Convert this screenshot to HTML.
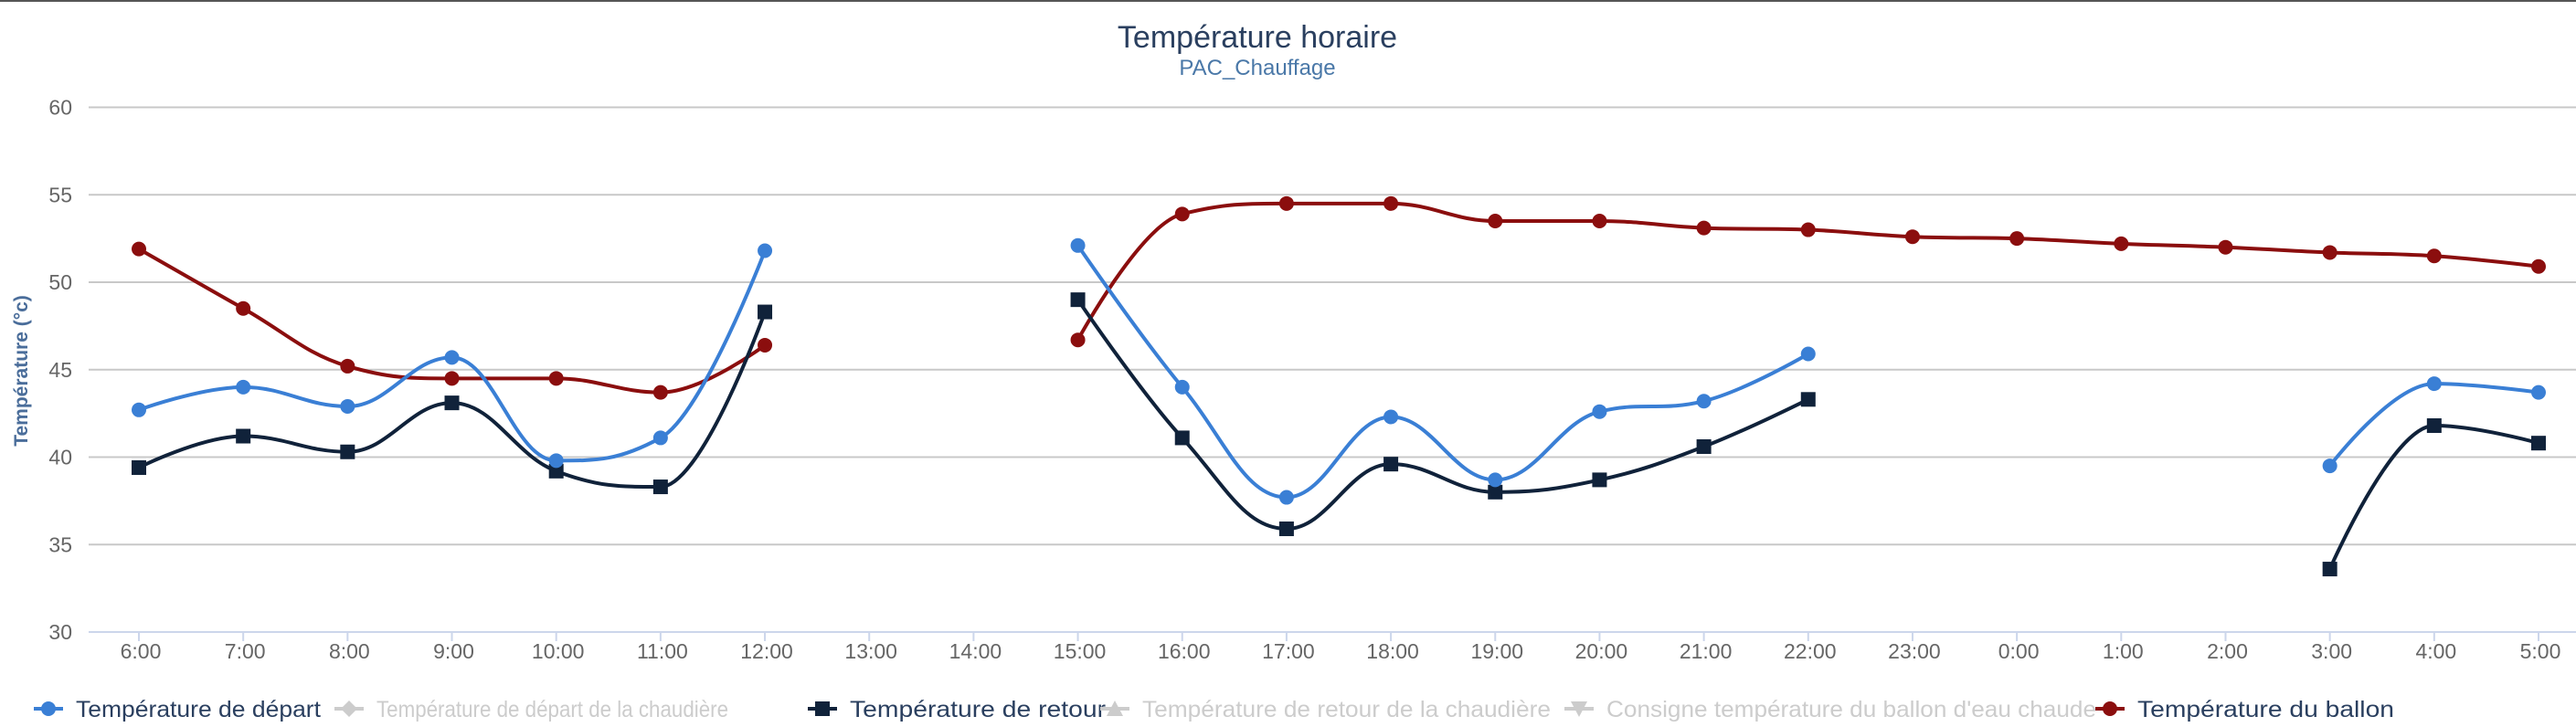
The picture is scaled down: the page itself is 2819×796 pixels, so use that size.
<!DOCTYPE html>
<html><head><meta charset="utf-8"><style>
html,body{margin:0;padding:0;background:#fff;}
svg{display:block;font-family:"Liberation Sans",sans-serif;}
</style></head><body>
<svg id="chart" width="2819" height="796" viewBox="0 0 2819 796">
<line x1="0" y1="1" x2="2819" y2="1" stroke="#555" stroke-width="2"/>
<text x="1376" y="52" text-anchor="middle" font-size="34" fill="#2a3f5f">Température horaire</text>
<text x="1376" y="82" text-anchor="middle" font-size="24" fill="#4a78a8">PAC_Chauffage</text>
<text transform="translate(30,406) rotate(-90)" text-anchor="middle" font-size="21" font-weight="bold" fill="#4a6d9a">Température (°c)</text>
<g id="grid"></g><g id="xaxis"></g><g id="series"></g>
<g id="legend" font-size="25"></g>
</svg>
<script>
const categories=["6:00","7:00","8:00","9:00","10:00","11:00","12:00","13:00","14:00","15:00","16:00","17:00","18:00","19:00","20:00","21:00","22:00","23:00","0:00","1:00","2:00","3:00","4:00","5:00"];
const yTicks=[30,35,40,45,50,55,60];
const departValues=[42.7,44.0,42.9,45.7,39.8,41.1,51.8,null,null,52.1,44.0,37.7,42.3,38.7,42.6,43.2,45.9,null,null,null,null,39.5,44.2,43.7];
const retourValues=[39.4,41.2,40.3,43.1,39.2,38.3,48.3,null,null,49.0,41.1,35.9,39.6,38.0,38.7,40.6,43.3,null,null,null,null,33.6,41.8,40.8];
const ballonValues=[51.9,48.5,45.2,44.5,44.5,43.7,46.4,null,null,46.7,53.9,54.5,54.5,53.5,53.5,53.1,53.0,52.6,52.5,52.2,52.0,51.7,51.5,50.9];
const legendLabels=["Température de départ","Température de départ de la chaudière","Température de retour","Température de retour de la chaudière","Consigne température du ballon d'eau chaude","Température du ballon"];

const NS="http://www.w3.org/2000/svg";
const X0=152,X1=2778,Y60=117.5,Y30=692;
const xs=i=>X0+(X1-X0)*i/(categories.length-1);
const ys=v=>Y30+(Y60-Y30)*(v-30)/30;
function mk(tag,attrs,parent){const e=document.createElementNS(NS,tag);for(const k in attrs)e.setAttribute(k,attrs[k]);parent.appendChild(e);return e;}

const grid=document.getElementById('grid');
yTicks.forEach(t=>{
  if(t>30){const l=mk('line',{x1:97,x2:2819,y1:ys(t),y2:ys(t),stroke:'#c8c8c8','stroke-width':2},grid);
  
  }
  const tx=mk('text',{x:79,y:ys(t)+8,'text-anchor':'end','font-size':23,fill:'#666'},grid);
  tx.textContent=t;
  
  
});
const xa=document.getElementById('xaxis');
const al=mk('line',{x1:97,x2:2819,y1:Y30,y2:Y30,stroke:'#ccd6eb','stroke-width':2},xa);


categories.forEach((c,i)=>{
  const tk=mk('line',{x1:xs(i),x2:xs(i),y1:Y30,y2:Y30+10,stroke:'#ccd6eb','stroke-width':2},xa);
  
  
  const t=mk('text',{x:xs(i)+2,y:721,'text-anchor':'middle','font-size':23,fill:'#666'},xa);
  t.textContent=c;
  
  
});

function splinePath(vals){
  let d='';const pts=vals.map((v,i)=>v==null?null:[xs(i),ys(v)]);
  const ctrl=[];
  for(let i=0;i<pts.length;i++){
    const p=pts[i];if(!p)continue;
    const pr=pts[i-1],nx=pts[i+1];
    if(pr&&nx){
      let lx=(1.5*p[0]+pr[0])/2.5,ly=(1.5*p[1]+pr[1])/2.5,rx=(1.5*p[0]+nx[0])/2.5,ry=(1.5*p[1]+nx[1])/2.5;
      if(rx!==lx){const c=((ry-ly)*(rx-p[0]))/(rx-lx)+p[1]-ry;ly+=c;ry+=c;}
      if(ly>pr[1]&&ly>p[1]){ly=Math.max(pr[1],p[1]);ry=2*p[1]-ly;}
      else if(ly<pr[1]&&ly<p[1]){ly=Math.min(pr[1],p[1]);ry=2*p[1]-ly;}
      if(ry>nx[1]&&ry>p[1]){ry=Math.max(nx[1],p[1]);ly=2*p[1]-ry;}
      else if(ry<nx[1]&&ry<p[1]){ry=Math.min(nx[1],p[1]);ly=2*p[1]-ry;}
      ctrl[i]={l:[lx,ly],r:[rx,ry]};
    } else ctrl[i]={l:p,r:p};
  }
  for(let i=0;i<pts.length;i++){
    const p=pts[i];if(!p)continue;
    if(!pts[i-1])d+='M'+p[0]+' '+p[1];
    else{const a=ctrl[i-1].r,b=ctrl[i].l;d+=' C'+a[0]+' '+a[1]+' '+b[0]+' '+b[1]+' '+p[0]+' '+p[1];}
  }
  return d;
}
const sg=document.getElementById('series');
function drawSeries(vals,color,shape,name){
  const g=mk('g',{},sg);
  
  
  const p=mk('path',{d:splinePath(vals),fill:'none',stroke:color,'stroke-width':4,'stroke-linejoin':'round'},g);
  
  
  vals.forEach((v,i)=>{if(v==null)return;
    let m;
    if(shape==='circle')m=mk('circle',{cx:xs(i),cy:ys(v),r:8,fill:color},g);
    else m=mk('rect',{x:xs(i)-8,y:ys(v)-8,width:16,height:16,fill:color},g);
    
    
  });
}
drawSeries(ballonValues,'#8b0e0e','circle','series-ballon');
drawSeries(retourValues,'#10223a','square','series-retour');
drawSeries(departValues,'#3a7fd5','circle','series-depart');

const lg=document.getElementById('legend');
const legendX=[83,412,930,1250,1758,2339];
const legendEnd=[351,797,1210,1697,2294,2620];
const legendColors=['#3a7fd5','#cccccc','#10223a','#cccccc','#cccccc','#8b0e0e'];
const legendText=['#2a3f5f','#cccccc','#2a3f5f','#cccccc','#cccccc','#2a3f5f'];
const legendShape=['circle','diamond','square','triangle','tri-down','circle'];
legendLabels.forEach((lab,i)=>{
  const g=mk('g',{},lg);
  
  
  const cx=legendX[i]-30,cy=776;
  mk('line',{x1:cx-16,x2:cx+16,y1:cy,y2:cy,stroke:legendColors[i],'stroke-width':4},g);
  const c=legendColors[i],s=legendShape[i];
  if(s==='circle')mk('circle',{cx:cx,cy:cy,r:8,fill:c},g);
  else if(s==='square')mk('rect',{x:cx-8,y:cy-8,width:16,height:16,fill:c},g);
  else if(s==='diamond')mk('polygon',{points:`${cx},${cy-9} ${cx+9},${cy} ${cx},${cy+9} ${cx-9},${cy}`,fill:c},g);
  else if(s==='triangle')mk('polygon',{points:`${cx},${cy-9} ${cx+9},${cy+8} ${cx-9},${cy+8}`,fill:c},g);
  else mk('polygon',{points:`${cx},${cy+9} ${cx+9},${cy-8} ${cx-9},${cy-8}`,fill:c},g);
  const t=mk('text',{x:legendX[i],y:cy+9,fill:legendText[i],textLength:legendEnd[i]-legendX[i],lengthAdjust:'spacingAndGlyphs'},g);
  t.textContent=lab;
});
</script>
</body></html>
